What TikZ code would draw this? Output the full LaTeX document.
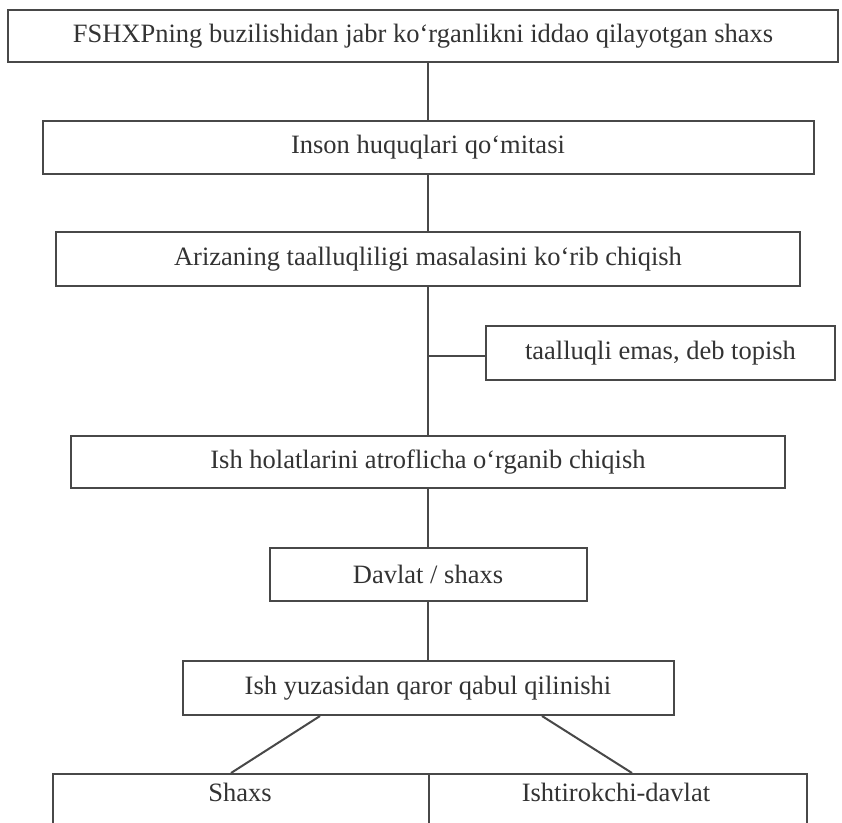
\documentclass[tikz,border=0pt]{standalone}
\usepackage{fontspec}
\setmainfont{Liberation Serif}
\usetikzlibrary{calc}
\definecolor{ln}{HTML}{484848}
\definecolor{tx}{HTML}{333333}
\begin{document}
\begin{tikzpicture}[x=1pt,y=1pt,
  box/.style={draw=ln, line width=2pt, inner sep=0pt, text=tx, font=\fontsize{26.5}{30}\selectfont},
  lbl/.style={inner sep=0pt, text=tx, font=\fontsize{26.5}{30}\selectfont},
  con/.style={draw=ln, line width=2pt}]
\useasboundingbox (0,0) rectangle (842,-822);
\clip (0,0) rectangle (842,-822);
\fill[white] (0,0) rectangle (842,-822);
\node[box, minimum width=830, minimum height=52] (b1) at (423,-36) {FSHXPning buzilishidan jabr ko‘rganlikni iddao qilayotgan shaxs};
\node[box, minimum width=771, minimum height=53] (b2) at (428,-147.5) {Inson huquqlari qo‘mitasi};
\node[box, minimum width=744, minimum height=54] (b3) at (428,-259) {Arizaning taalluqliligi masalasini ko‘rib chiqish};
\node[box, minimum width=349, minimum height=54] (side) at (660.5,-353) {taalluqli emas, deb topish};
\node[box, minimum width=714, minimum height=52] (b4) at (428,-462) {Ish holatlarini atroflicha o‘rganib chiqish};
\node[box, minimum width=317, minimum height=53] (dav) at (428,-574.5) {Davlat / shaxs};
\node[box, minimum width=491, minimum height=54] (yuz) at (428,-688) {Ish yuzasidan qaror qabul qilinishi};
\node[box, anchor=north west, minimum width=376, minimum height=90] (shbox) at (52,-773) {};
\node[box, anchor=north west, minimum width=378, minimum height=90] (isbox) at (428,-773) {};
\node[lbl] (sh) at (240,-792) {Shaxs};
\node[lbl] (is) at (616,-792) {Ishtirokchi-davlat};
\coordinate (j) at (428,-356);
\draw[con] (b1.south -| b2.north) -- (b2.north);
\draw[con] (b2.south) -- (b3.north);
\draw[con] (b3.south) -- (b4.north);
\draw[con] (j) -- (j -| side.west);
\draw[con] (b4.south) -- (dav.north);
\draw[con] (dav.south) -- (yuz.north);
\draw[con] ([xshift=-108pt]yuz.south) -- ([xshift=-10pt]shbox.north);
\draw[con] ([xshift=114pt]yuz.south) -- ([xshift=14pt]isbox.north);
\end{tikzpicture}
\end{document}
